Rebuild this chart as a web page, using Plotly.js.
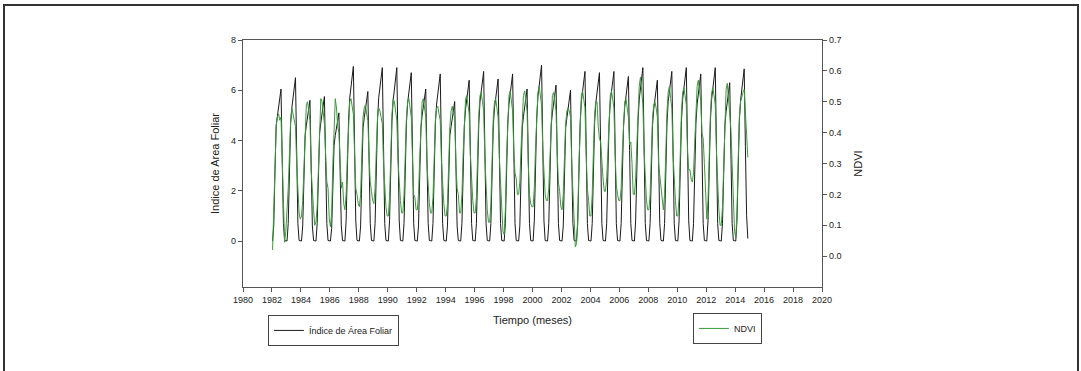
<!DOCTYPE html>
<html>
<head>
<meta charset="utf-8">
<script src="https://cdn.plot.ly/plotly-3.0.1.min.js"></script>
<style>
  html, body { margin: 0; padding: 0; background: #fff; }
  #wrap { position: relative; width: 1081px; height: 371px; overflow: hidden; }
  #chart { position: absolute; left: 0; top: 0; width: 1081px; height: 371px; }
  #frame { position: absolute; left: 3px; top: 4px; width: 1072px; height: 400px;
           border: 2px solid #333; border-bottom: none; pointer-events: none; }
</style>
</head>
<body>
<div id="wrap">
  <div id="chart"></div>
  <div id="frame"></div>
</div>
<script>
// Years of the monthly series (Jan..Dec per row)
const years = [1982,1983,1984,1985,1986,1987,1988,1989,1990,1991,1992,1993,1994,1995,1996,1997,
               1998,1999,2000,2001,2002,2003,2004,2005,2006,2007,2008,2009,2010,2011,2012,2013,2014];

// Índice de Área Foliar (LAI), monthly values per year
const laiByYear = [
  [0.0,0.6,2.8,4.6,4.96,5.3,5.7,6.05,3.3,0.7,0.02,0],
  [0,0.7,2.9,4.7,5.3,5.7,6.1,6.5,3.6,0.7,0.02,0],
  [0,0.6,2.6,4.2,4.6,4.9,5.3,5.6,3.1,0.6,0.02,0],
  [0,0.7,2.7,4.3,4.7,5.1,5.4,5.75,3.2,0.7,0.02,0],
  [0,0.5,2.4,3.8,4.2,4.5,4.8,5.1,2.8,0.6,0.02,0],
  [0,0.8,3.0,4.8,5.7,6.1,6.5,6.95,3.8,0.8,0.02,0],
  [0,0.6,2.8,4.5,4.9,5.2,5.6,5.95,3.3,0.7,0.02,0],
  [0,0.7,3.0,4.8,5.7,6.1,6.5,6.9,3.8,0.7,0.02,0],
  [0,0.8,3.0,4.8,5.6,6.1,6.5,6.9,3.8,0.8,0.02,0],
  [0,0.7,2.9,4.7,5.5,5.9,6.3,6.7,3.7,0.7,0.02,0],
  [0,0.6,2.8,4.5,5.0,5.3,5.7,6.05,3.3,0.7,0.02,0],
  [0,0.7,2.9,4.7,5.45,5.85,6.25,6.65,3.7,0.7,0.02,0],
  [0,0.6,2.6,4.2,4.55,4.9,5.2,5.55,3.05,0.6,0.02,0],
  [0,0.7,2.9,4.6,5.25,5.6,6.0,6.4,3.5,0.7,0.02,0],
  [0,0.7,3.0,4.7,5.55,5.95,6.35,6.75,3.7,0.7,0.02,0],
  [0,0.7,2.9,4.6,5.3,5.7,6.05,6.45,3.55,0.7,0.02,0],
  [0,0.7,2.9,4.7,5.45,5.85,6.25,6.65,3.65,0.7,0.02,0],
  [0,0.6,2.8,4.5,4.95,5.3,5.7,6.05,3.3,0.7,0.02,0],
  [0,0.8,3.1,4.9,5.75,6.15,6.6,7.0,3.85,0.8,0.02,0],
  [0,0.7,2.8,4.6,5.1,5.45,5.85,6.2,3.4,0.7,0.02,0],
  [0,0.6,2.8,4.5,4.9,5.3,5.65,6.0,3.3,0.7,0.02,0],
  [0,0.7,3.0,4.7,5.55,5.95,6.35,6.75,3.7,0.7,0.02,0],
  [0,0.7,2.9,4.7,5.5,5.9,6.3,6.7,3.7,0.7,0.02,0],
  [0,0.7,3.0,4.7,5.55,5.95,6.35,6.75,3.7,0.7,0.02,0],
  [0,0.7,2.9,4.6,5.35,5.75,6.15,6.55,3.6,0.7,0.02,0],
  [0,0.8,3.0,4.8,5.65,6.05,6.5,6.9,3.8,0.7,0.02,0],
  [0,0.7,2.9,4.6,5.25,5.65,6.0,6.4,3.5,0.7,0.02,0],
  [0,0.7,3.0,4.7,5.55,5.95,6.35,6.75,3.7,0.7,0.02,0],
  [0,0.8,3.0,4.8,5.65,6.05,6.5,6.9,3.8,0.8,0.02,0],
  [0,0.7,2.9,4.7,5.45,5.85,6.25,6.65,3.65,0.7,0.02,0],
  [0,0.8,3.0,4.8,5.65,6.05,6.5,6.9,3.8,0.7,0.02,0],
  [0,0.7,2.8,4.6,5.15,5.55,5.9,6.3,3.45,0.7,0.02,0],
  [0,0.8,3.0,4.8,5.6,6.0,6.45,6.85,3.75,1.0,0.1]
];

// NDVI, monthly values per year
const ndviByYear = [
  [0.02,0.12,0.28,0.42,0.45,0.46,0.44,0.45,0.30,0.12,0.045,0.08],
  [0.14,0.22,0.33,0.44,0.48,0.46,0.43,0.42,0.30,0.20,0.14,0.12],
  [0.13,0.18,0.30,0.42,0.49,0.50,0.47,0.44,0.28,0.19,0.15,0.10],
  [0.11,0.16,0.30,0.43,0.51,0.50,0.46,0.43,0.33,0.24,0.22,0.12],
  [0.095,0.14,0.30,0.44,0.51,0.48,0.42,0.40,0.30,0.22,0.24,0.17],
  [0.15,0.20,0.32,0.44,0.50,0.51,0.48,0.46,0.33,0.22,0.20,0.17],
  [0.16,0.20,0.33,0.45,0.48,0.49,0.46,0.44,0.32,0.24,0.21,0.18],
  [0.17,0.22,0.34,0.45,0.48,0.47,0.45,0.43,0.30,0.20,0.16,0.13],
  [0.13,0.19,0.33,0.46,0.51,0.50,0.47,0.44,0.31,0.22,0.18,0.14],
  [0.14,0.20,0.33,0.45,0.50,0.51,0.48,0.45,0.32,0.20,0.19,0.15],
  [0.15,0.20,0.32,0.44,0.50,0.51,0.47,0.45,0.30,0.21,0.17,0.14],
  [0.14,0.19,0.32,0.44,0.48,0.485,0.46,0.44,0.31,0.21,0.17,0.13],
  [0.13,0.17,0.30,0.42,0.47,0.485,0.46,0.45,0.30,0.22,0.20,0.14],
  [0.14,0.20,0.33,0.45,0.51,0.52,0.49,0.46,0.33,0.24,0.18,0.14],
  [0.14,0.19,0.33,0.46,0.52,0.53,0.50,0.47,0.32,0.20,0.15,0.11],
  [0.11,0.17,0.32,0.45,0.50,0.51,0.48,0.45,0.32,0.22,0.15,0.08],
  [0.07,0.15,0.32,0.46,0.52,0.535,0.50,0.47,0.34,0.27,0.25,0.20],
  [0.20,0.24,0.35,0.46,0.52,0.535,0.50,0.47,0.30,0.20,0.17,0.16],
  [0.16,0.22,0.35,0.47,0.53,0.55,0.52,0.49,0.35,0.25,0.20,0.18],
  [0.18,0.22,0.34,0.46,0.52,0.53,0.50,0.47,0.33,0.24,0.21,0.16],
  [0.15,0.20,0.32,0.43,0.47,0.48,0.47,0.45,0.30,0.20,0.10,0.03],
  [0.04,0.12,0.30,0.45,0.52,0.535,0.51,0.48,0.33,0.22,0.18,0.13],
  [0.13,0.20,0.34,0.46,0.50,0.50,0.42,0.38,0.37,0.30,0.25,0.21],
  [0.21,0.25,0.36,0.47,0.52,0.535,0.51,0.48,0.33,0.23,0.20,0.18],
  [0.18,0.22,0.34,0.45,0.50,0.51,0.48,0.45,0.36,0.37,0.30,0.20],
  [0.20,0.25,0.36,0.48,0.55,0.58,0.53,0.49,0.34,0.23,0.18,0.15],
  [0.15,0.20,0.33,0.45,0.49,0.50,0.48,0.45,0.30,0.26,0.24,0.20],
  [0.15,0.20,0.34,0.47,0.53,0.55,0.51,0.48,0.33,0.24,0.18,0.13],
  [0.13,0.19,0.34,0.47,0.53,0.545,0.52,0.49,0.34,0.28,0.28,0.25],
  [0.24,0.27,0.37,0.48,0.55,0.57,0.52,0.50,0.40,0.38,0.30,0.18],
  [0.12,0.18,0.33,0.46,0.53,0.545,0.52,0.49,0.34,0.22,0.15,0.10],
  [0.10,0.16,0.32,0.46,0.54,0.56,0.50,0.45,0.41,0.30,0.18,0.08],
  [0.06,0.14,0.31,0.45,0.50,0.52,0.53,0.54,0.47,0.38,0.32]
];

// Axis ticks
const xTicks = [1980,1982,1984,1986,1988,1990,1992,1994,1996,1998,2000,2002,2004,2006,2008,2010,2012,2014,2016,2018,2020];
const laiTicks = [0,2,4,6,8];
const ndviTicks = [0.0,0.1,0.2,0.3,0.4,0.5,0.6,0.7];

function flatten(rows) {
  const t = [], v = [];
  rows.forEach((row, i) => {
    row.forEach((val, m) => { t.push(years[i] + (m + 0.5) / 12); v.push(val); });
  });
  return { t, v };
}
const lai = flatten(laiByYear);
const ndvi = flatten(ndviByYear);

const axisCol = '#555';
const tickFont = { family: 'Liberation Sans, Arial, sans-serif', size: 9, color: '#222' };
const titleFont = { family: 'Liberation Sans, Arial, sans-serif', size: 11, color: '#222' };

const traces = [
  { x: lai.t, y: lai.v, type: 'scatter', mode: 'lines', name: 'Índice de Área Foliar',
    line: { color: '#1a1a1a', width: 1 }, yaxis: 'y', legend: 'legend' },
  { x: ndvi.t, y: ndvi.v, type: 'scatter', mode: 'lines', name: 'NDVI',
    line: { color: '#3a9a3a', width: 1 }, yaxis: 'y2', legend: 'legend2' }
];

const layout = {
  width: 1081, height: 371,
  margin: { l: 243, r: 259, t: 40, b: 84 },
  paper_bgcolor: '#fff', plot_bgcolor: '#fff',
  font: { family: 'Liberation Sans, Arial, sans-serif', color: '#222' },
  xaxis: {
    range: [1980, 2020], tickvals: xTicks, ticktext: xTicks.map(String),
    ticks: 'outside', ticklen: 4, tickcolor: axisCol, tickwidth: 1,
    showline: true, linecolor: axisCol, linewidth: 1.3, mirror: true,
    showgrid: false, zeroline: false, tickfont: tickFont,
    title: { text: 'Tiempo (meses)', font: titleFont, standoff: 12 }
  },
  yaxis: {
    range: [-1.83, 8], tickvals: laiTicks,
    ticks: 'outside', ticklen: 4, tickcolor: axisCol, tickwidth: 1,
    showline: true, linecolor: axisCol, linewidth: 1.3,
    showgrid: false, zeroline: false, tickfont: tickFont,
    title: { text: 'Indice de Area Foliar', font: titleFont, standoff: 9 }
  },
  yaxis2: {
    overlaying: 'y', side: 'right', range: [-0.1, 0.7], tickvals: ndviTicks, tickformat: '.1f',
    ticks: 'outside', ticklen: 4, tickcolor: axisCol, tickwidth: 1,
    showline: true, linecolor: axisCol, linewidth: 1.3,
    showgrid: false, zeroline: false, tickfont: tickFont,
    title: { text: 'NDVI', font: titleFont, standoff: 13 }
  },
  showlegend: true,
  legend: {
    x: 0.043, y: -0.113, xanchor: 'left', yanchor: 'top',
    bordercolor: '#444', borderwidth: 1, bgcolor: '#fff',
    font: { family: 'Liberation Sans, Arial, sans-serif', size: 9, color: '#222' }
  },
  legend2: {
    x: 0.777, y: -0.105, xanchor: 'left', yanchor: 'top',
    bordercolor: '#444', borderwidth: 1, bgcolor: '#fff',
    font: { family: 'Liberation Sans, Arial, sans-serif', size: 9, color: '#222' }
  }
};

Plotly.newPlot('chart', traces, layout, { displayModeBar: false, staticPlot: true });
</script>
</body>
</html>
